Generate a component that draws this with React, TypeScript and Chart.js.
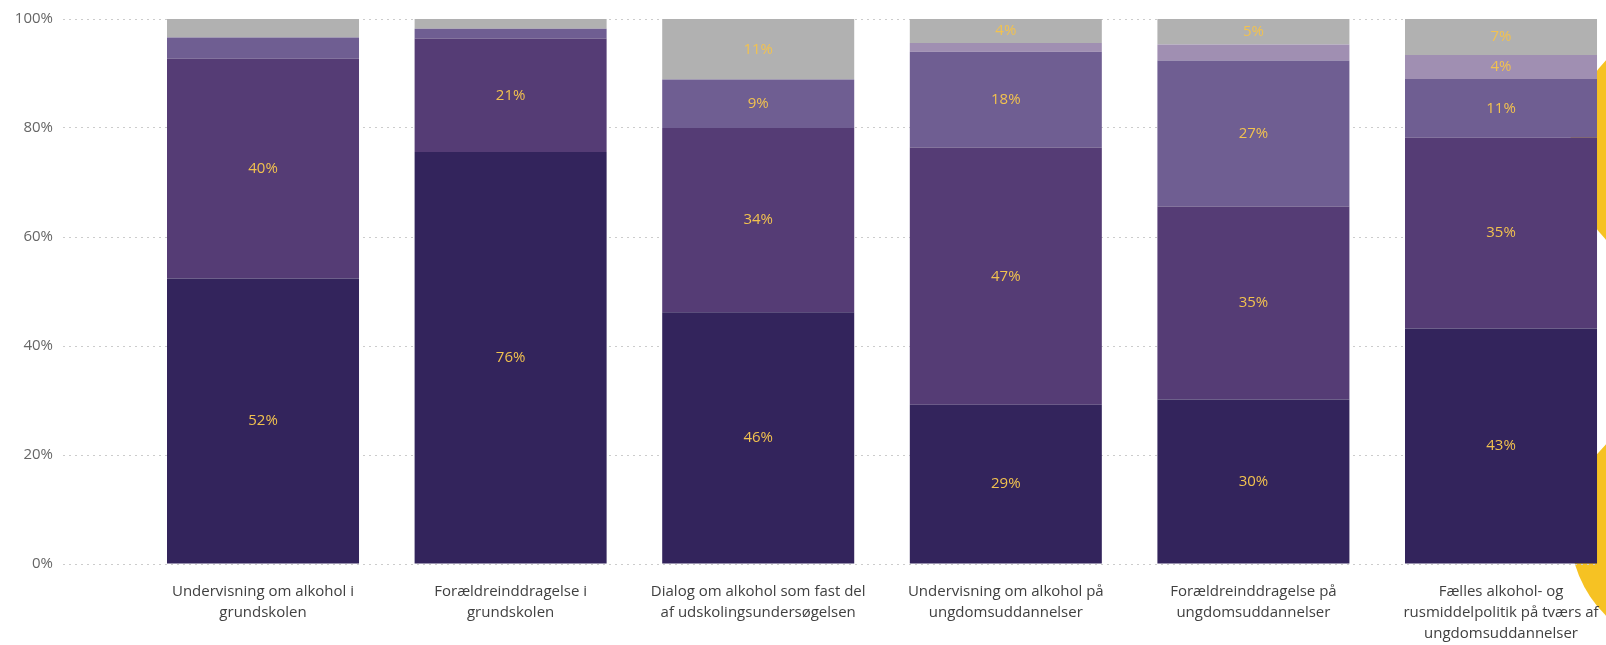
import React, { useEffect, useRef } from 'react';
import { Chart, registerables } from 'chart.js';

Chart.register(...registerables);

// ---- data ----
const categories: string[][] = [
  ['Undervisning om alkohol i', 'grundskolen'],
  ['Forældreinddragelse i', 'grundskolen'],
  ['Dialog om alkohol som fast del', 'af udskolingsundersøgelsen'],
  ['Undervisning om alkohol på', 'ungdomsuddannelser'],
  ['Forældreinddragelse på', 'ungdomsuddannelser'],
  ['Fælles alkohol- og', 'rusmiddelpolitik på tværs af', 'ungdomsuddannelser'],
];
const series1 = [52.4, 75.6, 46.2, 29.2, 30.2, 43.2];
const series2 = [40.3, 20.8, 33.8, 47.2, 35.4, 35.0];
const series3 = [3.9, 1.8, 8.9, 17.6, 26.8, 10.8];
const series4 = [0, 0, 0, 1.6, 2.9, 4.4];
const series5 = [3.4, 1.8, 11.1, 4.4, 4.7, 6.6];
const yTickValues = [0, 20, 40, 60, 80, 100];

const seriesList = [series1, series2, series3, series4, series5];
const seriesColors = ['#33245c', '#553c75', '#6f5e92', '#a08fb2', '#b1b1b1'];
const LABEL_MIN = 4;

const FONT = '"Open Sans", "Noto Sans", sans-serif';

const dataLabelPlugin = {
  id: 'segLabels',
  afterDatasetsDraw(chart: any) {
    const ctx = chart.ctx;
    ctx.save();
    ctx.font = `15px ${FONT}`;
    ctx.fillStyle = '#f2c24f';
    ctx.textAlign = 'center';
    ctx.textBaseline = 'middle';
    chart.data.datasets.forEach((ds: any, di: number) => {
      const meta = chart.getDatasetMeta(di);
      meta.data.forEach((el: any, i: number) => {
        const v = ds.data[i].y;
        if (v < LABEL_MIN) return;
        const { x, y, base } = el.getProps(['x', 'y', 'base'], true);
        ctx.fillText(`${Math.round(v)}%`, x, (y + base) / 2);
      });
    });
    ctx.restore();
  },
};

const categoryLabelPlugin = {
  id: 'catLabels',
  afterDraw(chart: any) {
    const ctx = chart.ctx;
    const xs = chart.scales.x;
    const bottom = chart.chartArea.bottom;
    ctx.save();
    ctx.font = `15px ${FONT}`;
    ctx.fillStyle = '#404040';
    ctx.textAlign = 'center';
    ctx.textBaseline = 'middle';
    categories.forEach((lines, i) => {
      const x = xs.getPixelForValue(i);
      lines.forEach((line, k) => {
        ctx.fillText(line, x, bottom + 28 + k * 21);
      });
    });
    ctx.restore();
  },
};

export default function App() {
  const canvasRef = useRef<HTMLCanvasElement | null>(null);

  useEffect(() => {
    document.body.style.margin = '0';
    document.body.style.overflow = 'hidden';
    const canvas = canvasRef.current;
    if (!canvas) return;
    const chart = new Chart(canvas, {
      type: 'bar',
      data: {
        datasets: seriesList.map((s, di) => ({
          label: `Serie ${di + 1}`,
          data: s.map((v, i) => ({ x: i, y: v })),
          backgroundColor: seriesColors[di],
          borderWidth: 0,
          barPercentage: 0.7755,
          categoryPercentage: 1,
        })),
      },
      options: {
        animation: false,
        responsive: true,
        maintainAspectRatio: false,
        layout: { padding: { top: 16, right: 8, bottom: 81, left: 0 } },
        plugins: {
          legend: { display: false },
          tooltip: { enabled: false },
        },
        scales: {
          x: {
            type: 'linear',
            stacked: true,
            display: false,
            offset: false,
            grid: { offset: false },
            min: -0.8078,
            max: 5.3917,
            afterBuildTicks: (axis: any) => {
              axis.ticks = categories.map((_, i) => ({ value: i }));
            },
          },
          y: {
            stacked: true,
            min: 0,
            max: 100,
            afterBuildTicks: (axis: any) => {
              axis.ticks = yTickValues.map((v) => ({ value: v }));
            },
            afterFit: (axis: any) => {
              axis.width = 63;
            },
            ticks: {
              padding: 10,
              color: '#666666',
              font: { family: FONT, size: 15 },
              callback: (v: any) => `${v}%`,
            },
            grid: {
              color: '#cccccc',
              lineWidth: 1,
              drawTicks: false,
            },
            border: { display: false, dash: [2, 4] },
          },
        },
      } as any,
      plugins: [dataLabelPlugin, categoryLabelPlugin],
    });
    return () => chart.destroy();
  }, []);

  return (
    <div style={{ position: 'relative', width: 1606, height: 645, overflow: 'hidden', background: '#ffffff' }}>
      <div
        style={{
          position: 'absolute',
          left: 1700 - 130,
          top: 150 - 130,
          width: 260,
          height: 260,
          borderRadius: '50%',
          background: '#f6c223',
        }}
      />
      <div
        style={{
          position: 'absolute',
          left: 1690 - 120,
          top: 530 - 120,
          width: 240,
          height: 240,
          borderRadius: '50%',
          background: '#f6c223',
        }}
      />
      <div style={{ position: 'absolute', left: 0, top: 0, width: 1606, height: 645, zIndex: 1 }}>
        <canvas ref={canvasRef} />
      </div>
    </div>
  );
}
